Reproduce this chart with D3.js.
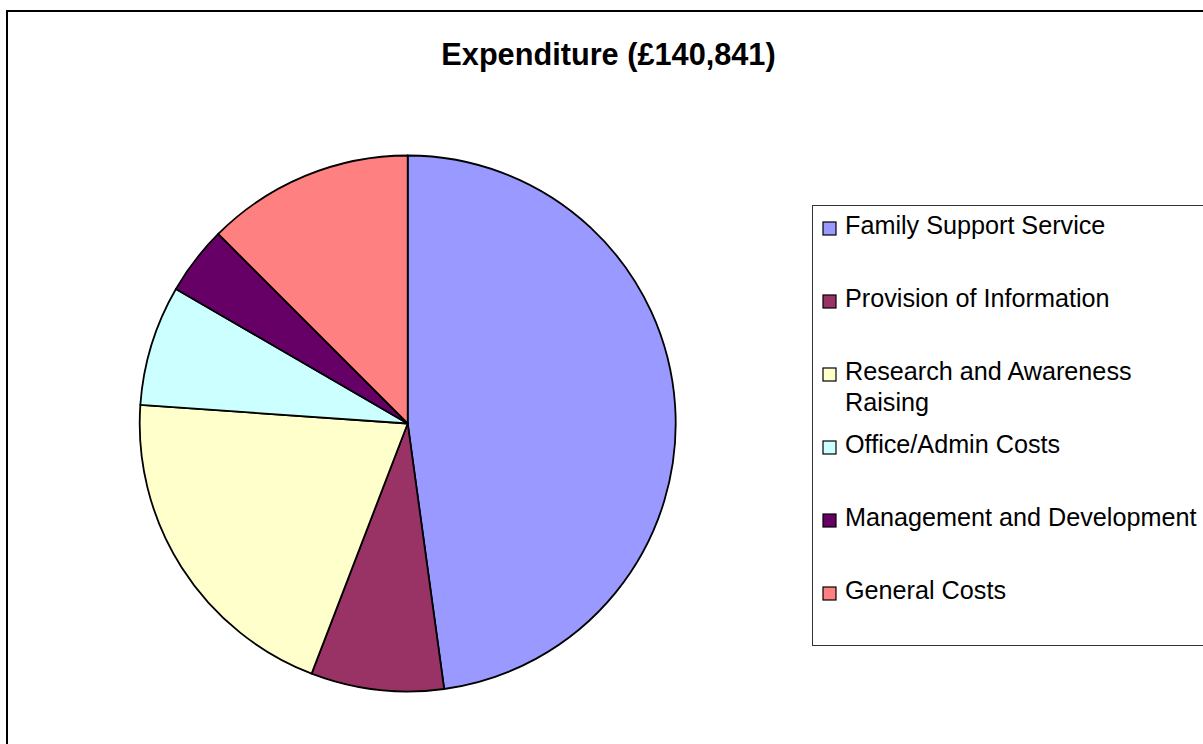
<!DOCTYPE html>
<html>
<head>
<meta charset="utf-8">
<script src="https://cdn.jsdelivr.net/npm/d3@7"></script>
<style>
  html, body { margin: 0; padding: 0; background: #fff; }
  svg { display: block; font-family: "Liberation Sans", Arial, sans-serif; }
</style>
</head>
<body>
<div id="chart"></div>
<script>
// Expenditure breakdown (total £140,841)
const categories = [
  'Family Support Service',
  'Provision of Information',
  'Research and Awareness Raising',
  'Office/Admin Costs',
  'Management and Development',
  'General Costs'
];
const amounts = [67360, 11280, 28550, 10230, 5820, 17600];
const colors  = ['#9999FF', '#993366', '#FFFFCC', '#CCFFFF', '#660066', '#FF8080'];
const title   = 'Expenditure (£140,841)';

const W = 1203, H = 744;

const svg = d3.select('#chart').append('svg')
  .attr('width', W)
  .attr('height', H);

// ── Outer frame (runs off the right/bottom edge) ──
svg.append('rect')
  .attr('x', 7).attr('y', 11)
  .attr('width', W + 20).attr('height', H + 20)
  .attr('fill', '#fff')
  .attr('stroke', '#000')
  .attr('stroke-width', 2);

// ── Title ──
svg.append('text')
  .attr('x', 608.5)
  .attr('y', 64.5)
  .attr('text-anchor', 'middle')
  .style('font-size', '30.7px')
  .style('font-weight', 'bold')
  .attr('fill', '#000')
  .text(title);

// ── Pie ──
const cx = 407.7, cy = 423.5, R = 268;

const pie = d3.pie().sort(null).value(d => d.value);
const arc = d3.arc().innerRadius(0).outerRadius(R);
const data = categories.map((c, i) => ({ name: c, value: amounts[i], color: colors[i] }));

svg.append('g')
  .attr('transform', `translate(${cx},${cy})`)
  .selectAll('path')
  .data(pie(data))
  .join('path')
  .attr('d', arc)
  .attr('fill', d => d.data.color)
  .attr('stroke', '#000')
  .attr('stroke-width', 1.8)
  .attr('stroke-linejoin', 'round');

// ── Legend ──
const lx = 812, ly = 205, lw = 400, lh = 440;
const legend = svg.append('g');

legend.append('rect')
  .attr('x', lx + 0.5).attr('y', ly + 0.5)
  .attr('width', lw).attr('height', lh)
  .attr('fill', '#fff')
  .attr('stroke', '#333')
  .attr('stroke-width', 1);

const rowY = d3.scaleLinear().domain([0, 1]).range([234, 307]);
const maxTextW = 356;

data.forEach((d, i) => {
  const y = rowY(i);
  legend.append('rect')
    .attr('x', 823).attr('y', y - 12)
    .attr('width', 13).attr('height', 13)
    .attr('fill', d.color)
    .attr('stroke', '#000')
    .attr('stroke-width', 1.2);

  const txt = legend.append('text')
    .attr('x', 845).attr('y', y)
    .attr('fill', '#000')
    .style('font-size', '25.2px');

  // simple word wrap to the legend width
  const words = d.name.split(' ');
  let line = [];
  let tspan = txt.append('tspan').attr('x', 845).attr('y', y);
  let lineNo = 0;
  words.forEach(w => {
    line.push(w);
    tspan.text(line.join(' '));
    if (tspan.node().getComputedTextLength() > maxTextW && line.length > 1) {
      line.pop();
      tspan.text(line.join(' '));
      line = [w];
      lineNo++;
      tspan = txt.append('tspan').attr('x', 845).attr('y', y + lineNo * 31).text(w);
    }
  });
});
</script>
</body>
</html>
